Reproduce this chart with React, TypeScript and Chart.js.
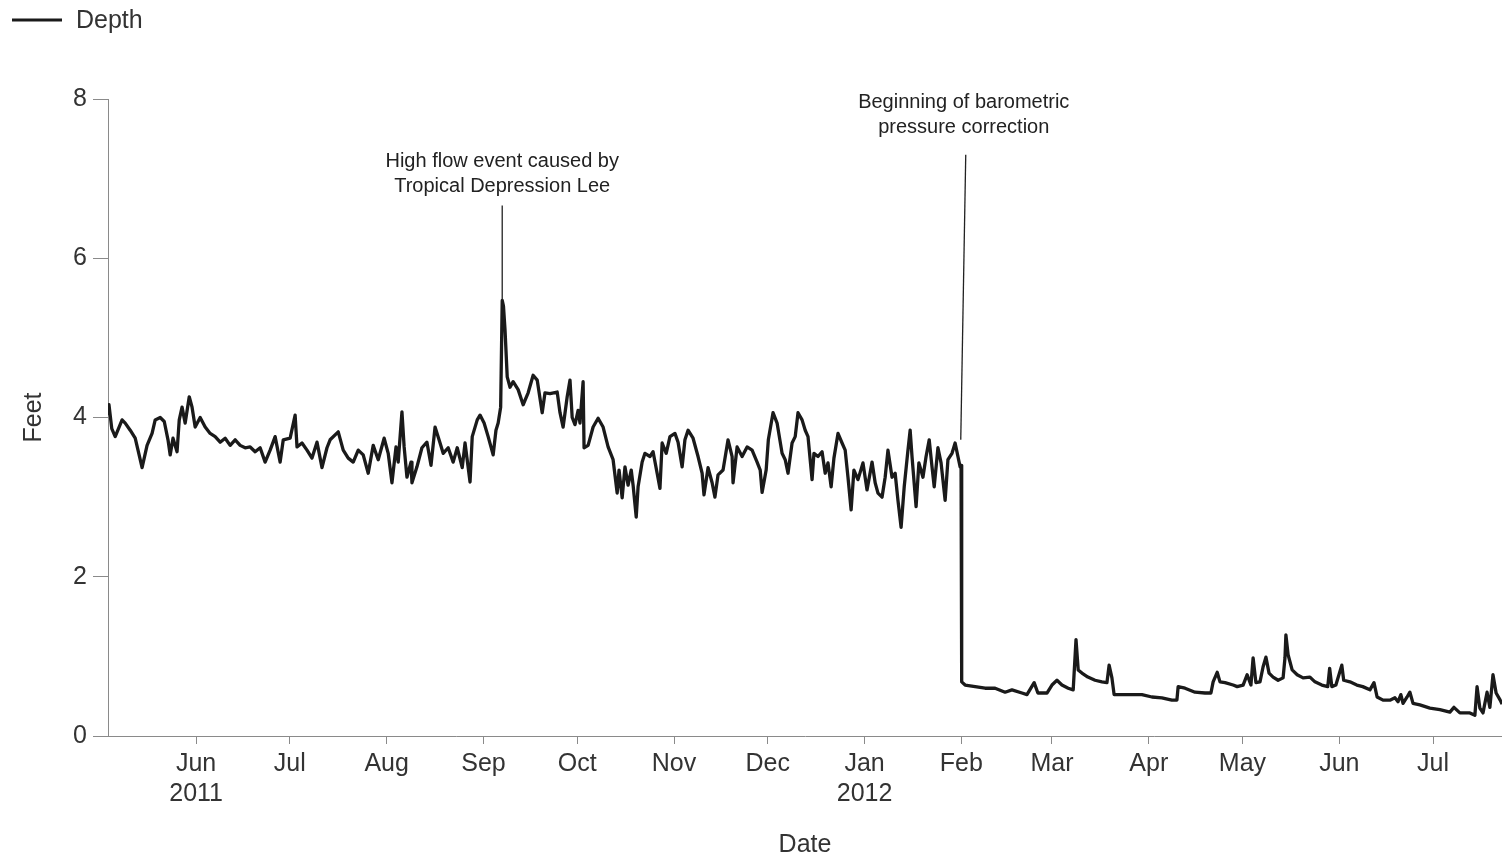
import { useEffect, useRef } from 'react';
import { Chart, registerables } from 'chart.js';

Chart.register(...registerables);

const FONT = '"Liberation Sans", Arial, sans-serif';
const TEXT = '#333333';
const AXIS = '#8a8a8a';
const DAY_MS = 86400000;
const ORIGIN = Date.UTC(2011, 5, 1); // day 0 = 1 June 2011

// Visible window of the time axis
const windowStart = '2011-05-03T19:00:00Z';
const windowEnd = '2012-07-23T02:00:00Z';

// Month tick positions and their labels
const monthStarts = [
  '2011-06-01', '2011-07-01', '2011-08-01', '2011-09-01', '2011-10-01', '2011-11-01',
  '2011-12-01', '2012-01-01', '2012-02-01', '2012-03-01', '2012-04-01', '2012-05-01',
  '2012-06-01', '2012-07-01',
];
const monthLabels: (string | string[])[] = [
  ['Jun', '2011'], 'Jul', 'Aug', 'Sep', 'Oct', 'Nov', 'Dec', ['Jan', '2012'], 'Feb', 'Mar', 'Apr', 'May', 'Jun', 'Jul',
];

// Observation times, in days since 1 June 2011
const obsDay = [
  -28.2, -27.9, -27.0, -25.9, -23.7, -22.7, -21.1, -19.5, -18.6, -17.3, -15.7, -14.1, -13.1, -11.5, -10.2,
  -9.0, -8.3, -7.4, -6.1, -5.4, -4.5, -3.5, -2.2, -1.3, -0.3, 1.3, 2.9, 4.5, 6.1, 7.7,
  9.3, 10.9, 12.5, 14.1, 15.7, 17.3, 18.9, 20.5, 22.1, 23.7, 25.3, 26.9, 27.9, 30.1, 31.7,
  32.3, 33.9, 35.5, 37.1, 38.7, 40.3, 41.9, 42.9, 45.5, 47.1, 48.7, 50.3, 51.9, 53.5, 55.1,
  56.7, 58.3, 60.2, 61.5, 62.7, 64.0, 64.7, 65.9, 66.6, 67.5, 68.8, 69.1, 70.7, 72.3, 73.9,
  75.2, 76.5, 78.1, 79.1, 80.7, 82.3, 83.6, 85.2, 86.1, 87.7, 88.4, 90.0, 90.9, 92.2, 93.5,
  95.1, 96.0, 96.7, 97.5, 98.0, 98.4, 98.9, 99.6, 100.5, 101.5, 103.1, 104.7, 106.3, 107.9, 109.2,
  110.8, 111.7, 113.3, 115.6, 116.5, 117.5, 118.8, 119.7, 120.4, 121.3, 122.3, 122.9, 123.9, 124.2, 125.5,
  127.1, 128.7, 130.3, 131.9, 133.5, 134.8, 135.4, 136.4, 137.3, 138.3, 139.3, 139.9, 140.9, 141.5, 142.8,
  143.7, 145.3, 146.3, 147.6, 148.5, 149.2, 150.5, 151.7, 153.3, 154.3, 155.6, 156.5, 157.5, 159.1, 160.7,
  162.0, 162.6, 163.9, 165.2, 166.1, 167.1, 168.7, 170.3, 171.6, 171.9, 173.2, 174.8, 176.4, 178.0, 179.6,
  180.6, 181.2, 182.5, 183.2, 184.7, 186.0, 187.6, 188.6, 189.5, 190.8, 191.8, 192.7, 194.0, 195.0, 195.9,
  197.2, 197.8, 199.1, 200.4, 201.4, 202.3, 203.3, 204.2, 205.5, 206.8, 207.8, 208.7, 209.7, 210.6, 211.9,
  213.5, 214.8, 216.4, 217.4, 218.3, 219.6, 220.6, 221.5, 222.8, 223.8, 224.7, 225.7, 226.7, 227.9, 228.6,
  229.2, 230.5, 231.4, 232.7, 233.7, 234.7, 235.6, 236.3, 237.5, 238.5, 239.8, 240.7, 242.0, 243.0, 243.9,
  244.6, 244.9, 245.1, 246.2, 249.4, 252.6, 255.8, 259.0, 261.2, 264.4, 266.0, 268.3, 269.5, 272.4, 274.0,
  275.6, 277.2, 279.2, 280.8, 281.7, 282.4, 283.6, 285.5, 287.8, 290.0, 291.6, 292.3, 293.2, 293.9, 296.4,
  299.6, 302.8, 306.0, 309.2, 312.4, 314.0, 314.4, 316.6, 319.8, 323.0, 324.9, 325.6, 326.9, 327.8, 329.4,
  332.0, 333.3, 335.2, 336.5, 337.7, 338.4, 339.3, 340.6, 341.6, 342.5, 343.5, 344.8, 346.4, 348.0, 348.6,
  348.9, 349.6, 350.9, 352.5, 354.4, 356.6, 358.2, 360.4, 362.3, 362.9, 363.6, 364.9, 366.8, 367.4, 369.4,
  371.6, 373.5, 375.8, 377.1, 378.1, 380.0, 382.2, 383.8, 384.8, 385.7, 386.4, 387.7, 388.6, 389.6, 391.8,
  395.0, 398.2, 401.4, 402.7, 404.6, 407.8, 409.4, 410.1, 411.0, 412.0, 413.3, 414.2, 415.2, 416.2, 417.5,
  418.1,
];

// Water depth, feet
const depthFt = [
  4.05, 4.16, 3.86, 3.76, 3.97, 3.93, 3.84, 3.74, 3.59, 3.37, 3.65, 3.80, 3.97, 4.00, 3.95,
  3.72, 3.53, 3.74, 3.57, 3.97, 4.13, 3.93, 4.26, 4.13, 3.88, 4.00, 3.88, 3.80, 3.76, 3.69,
  3.74, 3.65, 3.72, 3.65, 3.62, 3.63, 3.57, 3.62, 3.44, 3.59, 3.76, 3.44, 3.72, 3.74, 4.03,
  3.63, 3.68, 3.59, 3.49, 3.69, 3.37, 3.62, 3.72, 3.82, 3.59, 3.49, 3.44, 3.59, 3.53, 3.30,
  3.65, 3.47, 3.74, 3.55, 3.18, 3.63, 3.44, 4.07, 3.63, 3.25, 3.44, 3.18, 3.38, 3.62, 3.69,
  3.40, 3.88, 3.68, 3.55, 3.62, 3.44, 3.62, 3.37, 3.68, 3.19, 3.76, 3.97, 4.03, 3.93, 3.76,
  3.53, 3.84, 3.93, 4.13, 5.47, 5.40, 5.10, 4.51, 4.38, 4.45, 4.35, 4.16, 4.31, 4.53, 4.47,
  4.06, 4.31, 4.30, 4.32, 4.06, 3.88, 4.26, 4.47, 4.00, 3.91, 4.09, 3.93, 4.45, 3.62, 3.65,
  3.88, 3.99, 3.88, 3.63, 3.47, 3.05, 3.34, 2.99, 3.38, 3.15, 3.34, 3.15, 2.75, 3.13, 3.44,
  3.55, 3.51, 3.57, 3.30, 3.11, 3.68, 3.55, 3.76, 3.80, 3.69, 3.38, 3.72, 3.84, 3.74, 3.51,
  3.30, 3.03, 3.37, 3.18, 3.00, 3.28, 3.34, 3.72, 3.51, 3.18, 3.63, 3.51, 3.63, 3.59, 3.44,
  3.34, 3.06, 3.34, 3.72, 4.06, 3.93, 3.55, 3.47, 3.30, 3.68, 3.76, 4.06, 3.97, 3.84, 3.76,
  3.22, 3.55, 3.51, 3.57, 3.30, 3.43, 3.13, 3.49, 3.80, 3.68, 3.59, 3.25, 2.84, 3.34, 3.22,
  3.43, 3.09, 3.44, 3.18, 3.05, 3.00, 3.25, 3.59, 3.25, 3.30, 2.96, 2.62, 3.13, 3.59, 3.84,
  3.51, 2.88, 3.43, 3.25, 3.51, 3.72, 3.38, 3.13, 3.62, 3.43, 2.96, 3.47, 3.55, 3.68, 3.51,
  3.38, 3.40, 0.68, 0.64, 0.62, 0.60, 0.60, 0.55, 0.58, 0.54, 0.52, 0.67, 0.54, 0.54, 0.64,
  0.70, 0.64, 0.60, 0.58, 1.21, 0.83, 0.79, 0.74, 0.70, 0.68, 0.67, 0.89, 0.73, 0.52, 0.52,
  0.52, 0.52, 0.49, 0.48, 0.45, 0.45, 0.62, 0.60, 0.55, 0.54, 0.54, 0.68, 0.80, 0.68, 0.67,
  0.64, 0.62, 0.64, 0.77, 0.64, 0.98, 0.67, 0.68, 0.87, 0.99, 0.79, 0.74, 0.70, 0.73, 0.98,
  1.27, 1.02, 0.83, 0.77, 0.73, 0.74, 0.68, 0.64, 0.62, 0.85, 0.62, 0.64, 0.89, 0.70, 0.68,
  0.64, 0.62, 0.58, 0.67, 0.49, 0.45, 0.45, 0.48, 0.43, 0.52, 0.41, 0.49, 0.55, 0.41, 0.39,
  0.35, 0.33, 0.30, 0.36, 0.29, 0.29, 0.26, 0.62, 0.35, 0.29, 0.55, 0.36, 0.77, 0.54, 0.45,
  0.40,
];

// Callouts: anchored on a data point, text and leader offsets in pixels
const callouts = [
  { day: 98.0, depth: 5.47, lines: ['High flow event caused by', 'Tropical Depression Lee'], textDx: 0, textDy: -139, leaderDx: 0, leaderDy: -95 },
  { day: 244.8, depth: 3.72, lines: ['Beginning of barometric', 'pressure correction'], textDx: 3, textDy: -337, leaderDx: 5, leaderDy: -285 },
];

const toDay = (iso: string) => (Date.parse(iso.length === 10 ? iso + 'T00:00:00Z' : iso) - ORIGIN) / DAY_MS;
const tickDays = monthStarts.map(toDay);

const calloutPlugin = {
  id: 'callouts',
  afterDatasetsDraw(chart: any) {
    const { ctx, scales } = chart;
    const xs = scales.x;
    const ys = scales.y;
    ctx.save();
    for (const c of callouts) {
      const px = xs.getPixelForValue(c.day);
      const py = ys.getPixelForValue(c.depth);
      ctx.strokeStyle = '#222';
      ctx.lineWidth = 1.3;
      ctx.beginPath();
      ctx.moveTo(px + c.leaderDx, py + c.leaderDy);
      ctx.lineTo(px, py);
      ctx.stroke();
      ctx.fillStyle = '#222';
      ctx.font = `20px ${FONT}`;
      ctx.textAlign = 'center';
      ctx.textBaseline = 'middle';
      c.lines.forEach((t, i) => ctx.fillText(t, px + c.textDx, py + c.textDy + i * 25));
    }
    ctx.restore();
  },
};

const legendPlugin = {
  id: 'topLegend',
  afterDraw(chart: any) {
    const ds = chart.data.datasets[0];
    const { ctx } = chart;
    ctx.save();
    ctx.strokeStyle = ds.borderColor;
    ctx.lineWidth = 3;
    ctx.beginPath();
    ctx.moveTo(12, 20);
    ctx.lineTo(62, 20);
    ctx.stroke();
    ctx.fillStyle = TEXT;
    ctx.font = `25px ${FONT}`;
    ctx.textAlign = 'left';
    ctx.textBaseline = 'middle';
    ctx.fillText(ds.label, 76, 21);
    ctx.restore();
  },
};

export default function App() {
  const ref = useRef<HTMLCanvasElement | null>(null);

  useEffect(() => {
    if (!ref.current) return;
    const chart = new Chart(ref.current, {
      type: 'line',
      data: {
        datasets: [
          {
            label: 'Depth',
            data: obsDay.map((d, i) => ({ x: d, y: depthFt[i] })),
            borderColor: '#1a1a1a',
            borderWidth: 3.3,
            borderJoinStyle: 'round',
            pointRadius: 0,
            tension: 0,
          },
        ],
      },
      options: {
        responsive: false,
        animation: false,
        events: [],
        layout: { padding: { top: 99, left: 0, right: 0, bottom: 0 } },
        plugins: {
          legend: { display: false },
          tooltip: { enabled: false },
        },
        scales: {
          x: {
            type: 'linear',
            min: toDay(windowStart),
            max: toDay(windowEnd),
            afterBuildTicks: (s: any) => {
              s.ticks = tickDays.map((v) => ({ value: v }));
            },
            afterFit: (s: any) => {
              s.height = 120;
            },
            ticks: {
              autoSkip: false,
              maxRotation: 0,
              padding: 5,
              color: TEXT,
              font: { family: FONT, size: 25 },
              callback: (_v: any, i: number) => monthLabels[i],
            },
            grid: { drawOnChartArea: false, tickLength: 8, color: AXIS },
            border: { color: AXIS, width: 1 },
            title: {
              display: true,
              text: 'Date',
              color: TEXT,
              font: { family: FONT, size: 25, lineHeight: 1 },
              padding: { top: 0, bottom: -2 },
            },
          },
          y: {
            min: 0,
            max: 8,
            afterFit: (s: any) => {
              s.width = 108;
            },
            ticks: {
              stepSize: 2,
              padding: 6,
              color: TEXT,
              font: { family: FONT, size: 25 },
            },
            grid: { drawOnChartArea: false, tickLength: 15, color: AXIS },
            border: { color: AXIS, width: 1 },
            title: {
              display: true,
              text: 'Feet',
              color: TEXT,
              font: { family: FONT, size: 25, lineHeight: 1 },
              padding: { top: 22, bottom: 0 },
            },
          },
        },
      } as any,
      plugins: [calloutPlugin, legendPlugin],
    });
    return () => chart.destroy();
  }, []);

  return (
    <div style={{ position: 'fixed', left: 0, top: 0, width: 1502, height: 856, background: '#fff' }}>
      <canvas ref={ref} width={1502} height={856} style={{ display: 'block' }} />
    </div>
  );
}
